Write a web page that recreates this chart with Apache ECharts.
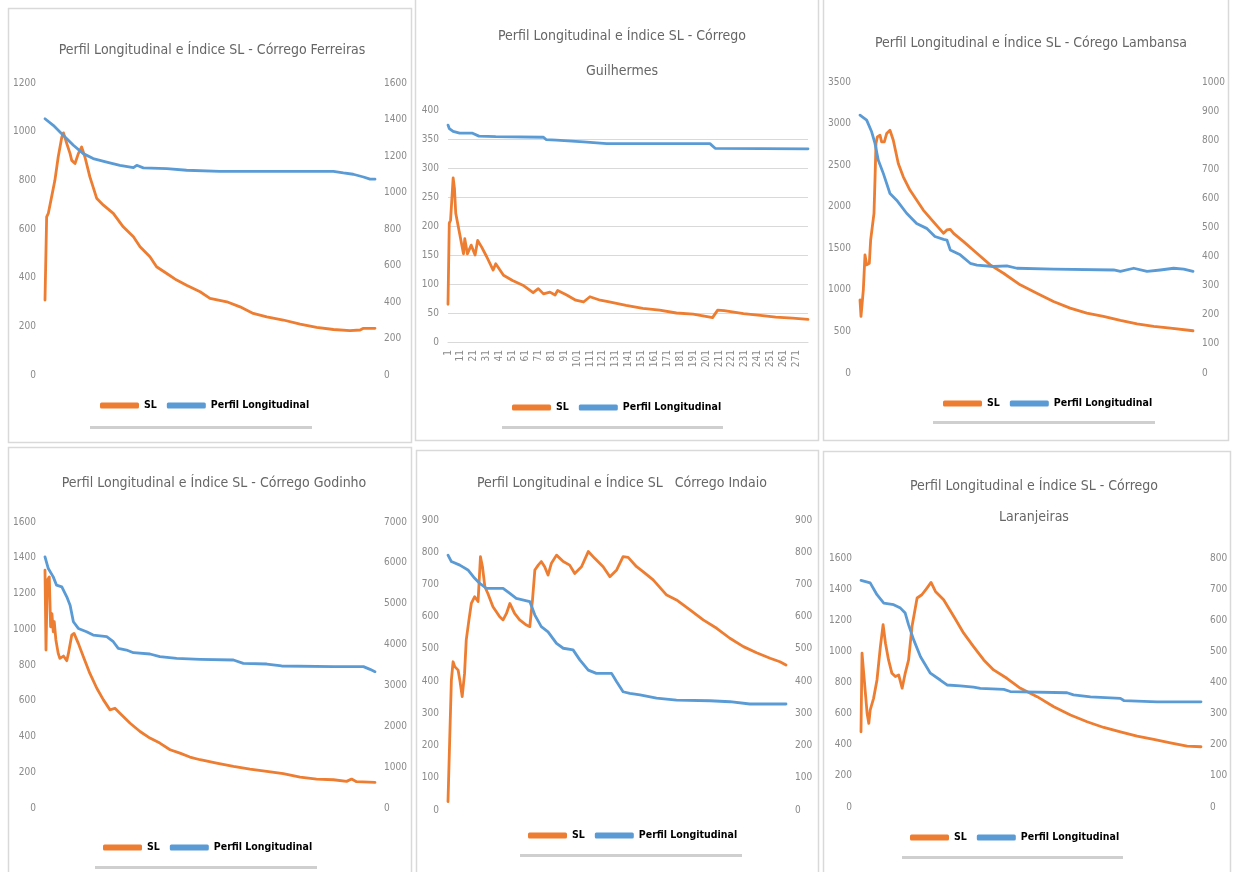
<!DOCTYPE html>
<html>
<head>
<meta charset="utf-8">
<script src="https://cdn.jsdelivr.net/npm/echarts@6/dist/echarts.min.js"></script>
<style>
  html, body { margin: 0; padding: 0; background: #fff; }
  #chart { width: 1235px; height: 872px; }
</style>
</head>
<body>
<div id="chart"></div>
<script>
// Perfis longitudinais e índice SL dos córregos.
// Pares [posição ao longo do perfil (% do comprimento), valor].

// Córrego Ferreiras
const ferreirasSL = [[0,308],[0.5,650],[1,664],[2,732],[3,800],[4,896],[5.1,978],[5.6,995],[6.6,951],[7.6,910],[8.1,882],[9.1,869],[10.1,910],[11.1,937],[12.1,896],[13.6,814],[15.7,725],[17.7,698],[20.7,664],[23.7,609],[26.8,568],[28.8,527],[31.8,486],[33.8,445],[36.9,417],[39.9,390],[42.9,369],[47,342],[50,315],[55.1,301],[59.1,280],[63.1,253],[67.2,239],[72.2,226],[77.3,209],[82.3,196],[87.4,187],[92.4,182],[95.5,185],[96.5,192],[100,192]];
const ferreirasPerfil = [[0,1404],[2.5,1368],[5.6,1313],[8.6,1259],[11.6,1213],[14.6,1186],[18.7,1167],[22.7,1149],[26.8,1136],[27.8,1149],[29.8,1135],[36.9,1131],[42.9,1122],[53,1116],[87.4,1116],[90.4,1107],[93.4,1100],[96.5,1085],[98.5,1073],[100,1073]];

// Córrego Guilhermes: pares [índice do ponto, valor], pontos numerados de 1 a 280
const guilhermesPontos = Array.from({ length: 280 }, (_, i) => String(i + 1));
const guilhermesSL = [[0,65],[1,205],[2,210],[4,283],[5,265],[6,222],[9,187],[12,152],[13,178],[15,152],[18,167],[21,150],[23,175],[26,164],[30,147],[35,124],[37,135],[43,115],[50,106],[58,98],[66,85],[70,92],[74,83],[79,86],[83,81],[85,89],[92,81],[99,72],[105,69],[110,78],[118,72],[125,69],[138,63],[151,58],[164,55],[177,50],[190,48],[203,43],[205,42],[209,55],[214,54],[229,49],[242,46],[254,43],[267,41],[279,39]];
const guilhermesPerfil = [[0,374],[1,368],[4,363],[9,360],[19,360],[24,355],[37,354],[74,353],[76,349],[84,348],[105,345],[123,342],[203,342],[207,334],[279,333]];

// Córrego Lambansa
const lambansaSL = [[0,880],[0.3,680],[1,1000],[1.5,1420],[2,1300],[2.8,1320],[3.2,1600],[3.8,1600],[4.2,1920],[4.5,2320],[4.8,2760],[5.2,2840],[6,2860],[6.5,2780],[7.3,2780],[8,2880],[9,2920],[10,2800],[11.5,2520],[13,2360],[15,2200],[17,2080],[19,1960],[22,1820],[25.1,1680],[26.1,1720],[27.1,1728],[28.1,1680],[31.1,1580],[35.1,1440],[39.1,1300],[43.1,1200],[48.1,1060],[53.1,960],[58.1,860],[63.1,780],[68.1,720],[73.1,680],[78.2,632],[83.2,592],[88.2,560],[93.2,540],[100,508]];
const lambansaPerfil = [[0,886],[2,869],[3.5,829],[4.5,789],[5.5,731],[7,686],[9,617],[11,594],[14,549],[17,514],[20,497],[22.5,469],[25.1,459],[26.1,457],[27.1,423],[30.1,406],[33.1,377],[35.1,371],[40.1,366],[44.1,368],[47.1,360],[58.1,357],[76.2,354],[78.2,349],[82.2,360],[86.2,349],[90.2,354],[94.2,360],[97.2,357],[100,349]];

// Córrego Godinho
const godinhoSL = [[0,1330],[0.3,884],[0.7,1274],[1.3,1293],[1.7,1014],[2.1,1088],[2.5,986],[2.8,1042],[3.3,940],[4,865],[4.5,837],[5.6,850],[6.6,824],[7.1,865],[8.1,967],[8.8,977],[10.1,921],[11.6,847],[13.6,753],[15.7,670],[17.7,605],[19.7,549],[21.2,558],[22.7,530],[25.8,474],[28.8,428],[31.8,391],[34.8,363],[37.9,326],[40.9,307],[43.9,285],[47,270],[52,251],[57.1,233],[62.1,218],[67.2,205],[72.2,192],[77.3,173],[82.3,162],[87.4,158],[91.4,149],[92.9,162],[94.4,147],[100,143]];
const godinhoPerfil = [[0,6146],[1,5861],[2.5,5657],[3.5,5454],[5.1,5413],[6.6,5169],[7.6,4965],[8.6,4558],[10.1,4395],[12.6,4314],[14.6,4233],[18.7,4192],[20.7,4070],[22.2,3907],[24.7,3866],[26.8,3801],[31.8,3769],[34.8,3704],[39.9,3663],[47,3639],[57.1,3622],[60.1,3541],[67.2,3524],[71.7,3476],[87.4,3460],[96.5,3460],[98.5,3394],[100,3337]];

// Córrego Indaio
const indaioSL = [[0,26],[0.5,217],[1,403],[1.5,460],[2,445],[3,434],[3.5,403],[4.2,352],[4.9,424],[5.4,528],[6.2,590],[6.9,641],[7.9,662],[8.9,647],[9.6,786],[10.2,755],[10.9,693],[11.8,672],[13.3,631],[15.3,600],[16.3,590],[17.3,610],[18.3,641],[19.7,610],[21.2,590],[23.2,574],[24.2,569],[25,652],[25.7,745],[26.7,760],[27.6,771],[28.6,755],[29.6,729],[30.6,766],[32.1,791],[34.1,771],[36,760],[37.5,734],[39.5,755],[41.5,802],[43.4,781],[45.9,755],[47.9,724],[49.9,745],[51.8,786],[53.3,784],[55.8,755],[57.7,740],[60.7,714],[64.7,667],[67.6,652],[71.6,621],[75.5,590],[79.5,564],[83.4,533],[87.4,507],[91.3,488],[95.3,471],[98.2,460],[100,450]];
const indaioPerfil = [[0,791],[1,771],[3.5,760],[5.9,745],[7.9,719],[9.4,703],[11.4,688],[16.3,688],[18.3,672],[20.2,657],[24.2,647],[25.7,605],[27.6,569],[29.6,553],[32.1,517],[34.1,502],[37,497],[39,466],[41.5,434],[43.9,424],[48.4,424],[49.9,398],[51.8,367],[53.8,362],[56.8,357],[61.7,347],[67.6,341],[77.5,339],[83.4,336],[89.3,329],[100,329]];

// Córrego Laranjeiras
const laranjeirasSL = [[0,483],[0.3,988],[0.8,859],[1.8,601],[2.3,537],[2.7,623],[3.7,698],[4.7,816],[5.7,1031],[6.5,1171],[7.2,1052],[8.1,945],[9.1,859],[10.1,838],[11.1,848],[12.1,763],[13,859],[14,945],[15,1160],[16.5,1343],[17.9,1364],[19.4,1407],[20.6,1443],[21.9,1385],[24.3,1332],[27.3,1224],[30.2,1117],[33.1,1031],[36.1,945],[39,881],[42.9,827],[46.9,763],[51.8,709],[56.7,644],[61.6,591],[66.5,548],[71.4,511],[76.3,483],[81.2,455],[86.1,434],[91,412],[95.9,391],[100,387]];
const laranjeirasPerfil = [[0,728],[2.7,720],[4.7,682],[6.7,655],[9.6,650],[11.6,639],[13,623],[14,585],[15.5,537],[17.5,483],[20.4,430],[23.3,408],[25.3,392],[29.2,389],[33.1,385],[35.1,381],[42,378],[43.9,371],[60.6,367],[62.5,360],[67.5,354],[76.3,349],[77.3,342],[87.1,338],[100,338]];

// Escalas dos eixos: [máximo, intervalo]
const ferreirasEixos   = { esq: [1200, 200], dir: [1600, 200] };
const guilhermesEixos  = { esq: [400, 50] };
const lambansaEixos    = { esq: [3500, 500], dir: [1000, 100] };
const godinhoEixos     = { esq: [1600, 200], dir: [7000, 1000] };
const indaioEixos      = { esq: [900, 100], dir: [900, 100] };
const laranjeirasEixos = { esq: [1600, 200], dir: [800, 100] };

const NOME_SL = 'SL';
const NOME_PERFIL = 'Perfil Longitudinal';

// Disposição dos seis painéis na página
const paineis = [
  { titulo: 'Perfil Longitudinal e Índice SL - Córrego Ferreiras', caixa: [8, 8, 403, 434], tx: 207, ty: 35, lh: 20,
    grid: [45, 83, 330, 292], eixos: ferreirasEixos, sl: ferreirasSL, perfil: ferreirasPerfil, leg: [95, 395], barra: [90, 426, 222] },
  { titulo: 'Perfil Longitudinal e Índice SL - Córrego\nGuilhermes', caixa: [415, -4, 403, 444], tx: 617, ty: 14, lh: 35,
    grid: [448, 110, 360, 232], eixos: guilhermesEixos, sl: guilhermesSL, perfil: guilhermesPerfil, leg: [507, 397], barra: [502, 426, 221], categorias: guilhermesPontos },
  { titulo: 'Perfil Longitudinal e Índice SL - Córego Lambansa', caixa: [823, -4, 405, 444], tx: 1026, ty: 28, lh: 20,
    grid: [860, 82, 333, 291], eixos: lambansaEixos, sl: lambansaSL, perfil: lambansaPerfil, leg: [938, 393], barra: [933, 421, 222] },
  { titulo: 'Perfil Longitudinal e Índice SL - Córrego Godinho', caixa: [8, 447, 403, 440], tx: 209, ty: 468, lh: 20,
    grid: [45, 522, 330, 286], eixos: godinhoEixos, sl: godinhoSL, perfil: godinhoPerfil, leg: [98, 837], barra: [95, 866, 222] },
  { titulo: 'Perfil Longitudinal e Índice SL   Córrego Indaio', caixa: [416, 450, 402, 440], tx: 617, ty: 468, lh: 20,
    grid: [448, 520, 338, 290], eixos: indaioEixos, sl: indaioSL, perfil: indaioPerfil, leg: [523, 825], barra: [520, 854, 222] },
  { titulo: 'Perfil Longitudinal e Índice SL - Córrego\nLaranjeiras', caixa: [823, 451, 407, 440], tx: 1029, ty: 466, lh: 31,
    grid: [861, 558, 340, 249], eixos: laranjeirasEixos, sl: laranjeirasSL, perfil: laranjeirasPerfil, leg: [905, 827], barra: [902, 856, 221] }
];

const FONTE = "'Liberation Sans Narrow', 'DejaVu Sans Condensed', 'Arial Narrow', sans-serif";
const LARANJA = '#ED7D31';
const AZUL = '#5B9BD5';
const CINZA_ROTULO = '#8a8a8a';
const semSeparador = (v) => String(v);

const option = {
  animation: false,
  backgroundColor: '#ffffff',
  title: [], legend: [], grid: [], xAxis: [], yAxis: [], series: [], graphic: []
};

paineis.forEach((p, i) => {
  option.graphic.push({
    type: 'rect', z: -10, silent: true,
    shape: { x: p.caixa[0] + 0.5, y: p.caixa[1] + 0.5, width: p.caixa[2], height: p.caixa[3] },
    style: { fill: '#ffffff', stroke: '#d9d9d9', lineWidth: 1.5 }
  });
  option.graphic.push({
    type: 'rect', silent: true,
    shape: { x: p.barra[0], y: p.barra[1], width: p.barra[2], height: 3 },
    style: { fill: '#cfcfcf' }
  });

  option.title.push({
    text: p.titulo, left: p.tx, top: p.ty, textAlign: 'center',
    textStyle: { fontFamily: FONTE, fontSize: 14, fontWeight: 'normal', color: '#666666', lineHeight: p.lh }
  });

  option.legend.push({
    data: [NOME_SL, NOME_PERFIL], left: p.leg[0], top: p.leg[1], orient: 'horizontal',
    icon: 'roundRect', itemWidth: 39, itemHeight: 6, itemGap: 10, selectedMode: false,
    textStyle: { fontFamily: FONTE, fontSize: 10.5, fontWeight: 'bold', color: '#000' }
  });

  option.grid.push({ left: p.grid[0], top: p.grid[1], width: p.grid[2], height: p.grid[3], containLabel: false });

  if (p.categorias) {
    option.xAxis.push({
      type: 'category', gridIndex: i, data: p.categorias, boundaryGap: false,
      axisLine: { lineStyle: { color: '#d9d9d9', width: 1 } },
      axisTick: { show: false },
      axisLabel: { interval: 9, rotate: 90, fontFamily: FONTE, fontSize: 10, color: CINZA_ROTULO, margin: 8 },
      splitLine: { show: false }
    });
  } else {
    option.xAxis.push({ type: 'value', gridIndex: i, min: 0, max: 100, show: false });
  }

  const eixoEsq = option.yAxis.length;
  option.yAxis.push({
    type: 'value', gridIndex: i, position: 'left', min: 0, max: p.eixos.esq[0], interval: p.eixos.esq[1],
    axisLine: { show: false }, axisTick: { show: false },
    axisLabel: { fontFamily: FONTE, fontSize: 10, color: CINZA_ROTULO, margin: 9, formatter: semSeparador },
    splitLine: p.categorias
      ? { show: true, showMaxLine: false, lineStyle: { color: '#d9d9d9', width: 1 } }
      : { show: false }
  });
  let eixoDir = eixoEsq;
  if (p.eixos.dir) {
    eixoDir = option.yAxis.length;
    option.yAxis.push({
      type: 'value', gridIndex: i, position: 'right', min: 0, max: p.eixos.dir[0], interval: p.eixos.dir[1],
      axisLine: { show: false }, axisTick: { show: false },
      axisLabel: { fontFamily: FONTE, fontSize: 10, color: CINZA_ROTULO, margin: 9, formatter: semSeparador },
      splitLine: { show: false }
    });
  }

  const linha = (nome, dados, cor, eixoY) => ({
    name: nome, type: 'line', xAxisIndex: i, yAxisIndex: eixoY, data: dados,
    showSymbol: false, symbol: 'none', smooth: false, silent: true,
    itemStyle: { color: cor },
    lineStyle: { color: cor, width: 2.8, cap: 'round', join: 'round' }
  });
  option.series.push(linha(NOME_SL, p.sl, LARANJA, eixoEsq));
  option.series.push(linha(NOME_PERFIL, p.perfil, AZUL, eixoDir));
});

const chart = echarts.init(document.getElementById('chart'), null, { renderer: 'canvas' });
chart.setOption(option);
</script>
</body>
</html>
